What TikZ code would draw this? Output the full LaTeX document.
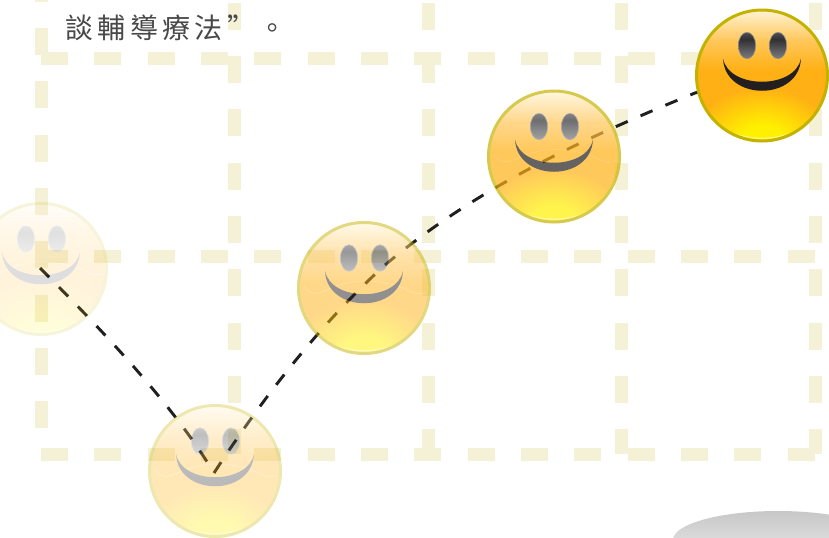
\documentclass[tikz,border=0pt]{standalone}
\usepackage{fontspec}
\newfontfamily\cjkfont[LetterSpace=15.2]{Noto Sans CJK TC}
\definecolor{griddash}{RGB}{245,241,214}
\definecolor{faceedge}{RGB}{196,178,0}
\definecolor{facetop}{RGB}{255,244,214}
\definecolor{facemid}{RGB}{255,198,88}
\definecolor{faceorange}{RGB}{255,176,20}
\definecolor{faceyellow}{RGB}{255,240,0}
\definecolor{mouthdark}{RGB}{35,31,32}
\definecolor{eyetop}{RGB}{48,48,50}
\definecolor{eyebot}{RGB}{125,125,128}
\definecolor{textgrey}{RGB}{72,72,72}
\pgfdeclareverticalshading{facebody}{100bp}{color(0bp)=(faceorange); color(52bp)=(faceorange); color(63bp)=(facemid); color(75bp)=(facetop); color(100bp)=(facetop)}
\pgfdeclareverticalshading{eyeball}{100bp}{color(0bp)=(eyebot); color(25bp)=(eyebot); color(62bp)=(eyetop); color(75bp)=(eyetop!85!white); color(100bp)=(eyetop)}
\pgfdeclareradialshading{faceglow}{\pgfpoint{0bp}{0bp}}{color(0bp)=(faceyellow); color(8bp)=(faceyellow); color(25bp)=(faceorange); color(50bp)=(faceorange)}
\tikzset{
  griddashes/.style={griddash,line width=9.75pt,dash pattern=on 20.25pt off 19.75pt},
  curveline/.style={black!88,line width=2.2pt,dash pattern=on 9.75pt off 10.5pt},
  smiley/.pic={
    \pgfmathsetmacro\waveop{0.7*(1-#1)}
    \begin{scope}[transparency group,opacity=#1]
      %Face body
      \shade[shading=facebody] (0,0) circle [radius=66];
      \begin{scope}
        \clip (0,0) circle [radius=66];
        \shade[shading=faceglow] (0,68) ellipse [x radius=74,y radius=56];
        \draw[white,opacity=0.5,line width=0.9pt] (-34,56) .. controls (-12,65) and (12,65) .. (34,56);
      \end{scope}
      \draw[white,opacity=\waveop,line width=0.4pt] (-60,-1) .. controls (-54,6) and (-48,7) .. (-40,3) .. controls (-25,-3) and (-15,-7) .. (0,-7) .. controls (20,-7) and (30,-3) .. (43,1.5) .. controls (50,6) and (56,7) .. (62,4);
      \draw[faceedge,line width=2.25pt] (0,0) circle [radius=65.5];
      %Eyes
      \shade[shading=eyeball,draw=eyebot!85!white,line width=0.5pt] (-15,-30) ellipse [x radius=8.7,y radius=13.2];
      \shade[shading=eyeball,draw=eyebot!85!white,line width=0.5pt] (16,-30) ellipse [x radius=8.7,y radius=13.2];
      %Mouth
      \fill[mouthdark] (-39,-17) .. controls (-37,26) and (37,26) .. (39,-17) .. controls (33,14) and (-33,14) .. (-39,-17) -- cycle;
    \end{scope}
  }
}

\begin{document}
\begin{tikzpicture}[x=0.75pt,y=0.75pt,yscale=-1,xscale=1]
\useasboundingbox (0,0) rectangle (829,537);
\clip (0,0) rectangle (829,537);

%Grid of dashes
\foreach \ypos in {58,256,454}
  \draw[griddashes] (41,\ypos) -- (815,\ypos);
\draw[griddashes] (41,-25.3) -- (41,454);
\foreach \xpos in {234,428,621,815}
  \draw[griddashes] (\xpos,2.7) -- (\xpos,454);

%Face centres
\coordinate (faceA) at (41,269);
\coordinate (faceB) at (215,471);
\coordinate (faceC) at (364,288);
\coordinate (faceD) at (554,156.5);
\coordinate (faceE) at (762,75.5);

%Dashed curve
\coordinate (curveStart) at (40,268);
\coordinate (curveLow) at (214,473);
\coordinate (curveMid) at (385,265);
\coordinate (curveHigh) at (695,93);
\draw[curveline] (curveStart) .. controls (110,338) and (175,408) .. (curveLow);
\draw[curveline] (curveLow) .. controls (271,385) and (330,315) .. (curveMid) .. controls (480,185) and (590,136) .. (curveHigh) -- (faceE);

%Faces
\pic[transform shape] at (faceA) {smiley=0.15};
\pic[transform shape] at (faceB) {smiley=0.31};
\pic[transform shape] at (faceC) {smiley=0.5};
\pic[transform shape] at (faceD) {smiley=0.7};
\pic[transform shape] at (faceE) {smiley=1};

%Grey ellipse
\shade[top color=black!22,bottom color=black!6] (778,540) ellipse [x radius=105,y radius=29];

% Text Node
\node (caption) at (65.5,28) [anchor=west,inner sep=0pt,font=\cjkfont\fontsize{21pt}{24pt}\selectfont,text=textgrey] {談輔導療法”\hspace{-5.1pt}\ 。};

\end{tikzpicture}
\end{document}
